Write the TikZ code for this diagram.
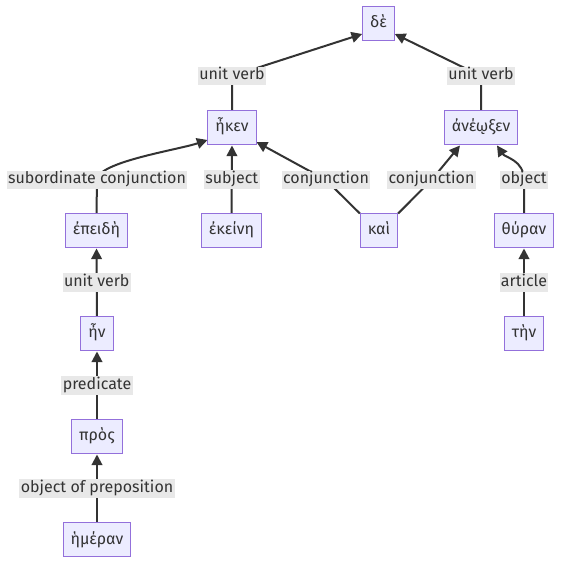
\documentclass[tikz,border=0pt]{standalone}
\usepackage{fontspec}
\setmainfont{Fira Sans}
\usepackage{tikz}
\usetikzlibrary{arrows.meta,calc,backgrounds}
\usepackage{xcolor}
\definecolor{boxfill}{HTML}{ECECFF}
\definecolor{boxline}{HTML}{9370DB}
\definecolor{lblfill}{HTML}{E8E8E8}
\definecolor{ink}{HTML}{333333}

\begin{document}
\begin{tikzpicture}[
    x=0.75pt, y=0.75pt,
    word/.style={draw=boxline, fill=boxfill, line width=0.75pt, text=ink, font=\fontsize{12}{14}\selectfont, minimum height=25.5pt, inner xsep=5.6pt, text height=9pt, text depth=3pt},
    lbl/.style={fill=lblfill, text=ink, font=\fontsize{12}{14}\selectfont, inner xsep=1pt, inner ysep=1pt, text height=9pt, text depth=3pt},
    edge/.style={-{Triangle[length=8pt,width=8pt]}, line width=1.5pt, draw=ink}
]
\useasboundingbox (0,0) rectangle (562,565);

% 語
\node[word] (de) at (378.5,541) {δὲ};
\node[word] (hken) at (232,437) {ἦκεν};
\node[word] (anewxen) at (481,437) {ἀνέῳξεν};
\node[word] (epeidh) at (96.5,334) {ἐπειδὴ};
\node[word] (ekeinh) at (231.5,334) {ἐκείνη};
\node[word] (kai) at (379,334) {καὶ};
\node[word] (thyran) at (524,334) {θύραν};
\node[word] (hn) at (97,231) {ἦν};
\node[word] (thn) at (524,231) {τὴν};
\node[word] (pros) at (97,128) {πρὸς};
\node[word] (hmeran) at (97,25) {ἡμέραν};

% 曲がる辺のラベル
\node[lbl] (luv1) at (232,489) {unit verb};
\node[lbl] (luv2) at (481,489) {unit verb};
\node[lbl] (lsc) at (97,385) {subordinate conjunction};
\node[lbl] (lconj1) at (326,385) {conjunction};
\node[lbl] (lconj2) at (431.5,385) {conjunction};
\node[lbl] (lobj) at (524,385) {object};

% 辺
\begin{scope}[on background layer]
\draw[edge] (hken.north) -- (luv1.center) -- ($(de.west)+(0,-10)$);
\draw[edge] (anewxen.north) -- (luv2.center) -- ($(de.east)+(0,-10)$);
\draw[edge] (epeidh.north) -- (lsc.center) .. controls +(0,18) and +(-30,-10) .. ($(hken.west)+(0,-12)$);
\draw[edge] (ekeinh.north) -- node[lbl] (lsubj) {subject} (hken.south);
\draw[edge] (kai.north west) -- (lconj1.center) -- ($(hken.east)+(0,-14)$);
\draw[edge] (kai.north east) -- (lconj2.center) -- ($(anewxen.south)+(-21,0)$);
\draw[edge] (thyran.north) -- (lobj.center) .. controls +(0,20) and +(8,-12) .. ($(anewxen.south)+(16,0)$);
\draw[edge] (thn.north) -- node[lbl] (lart) {article} (thyran.south);
\draw[edge] (hn.north) -- node[lbl] (luv3) {unit verb} (epeidh.south);
\draw[edge] (pros.north) -- node[lbl] (lpred) {predicate} (hn.south);
\draw[edge] (hmeran.north) -- node[lbl] (lobjp) {object of preposition} (pros.south);
\end{scope}

\end{tikzpicture}
\end{document}
